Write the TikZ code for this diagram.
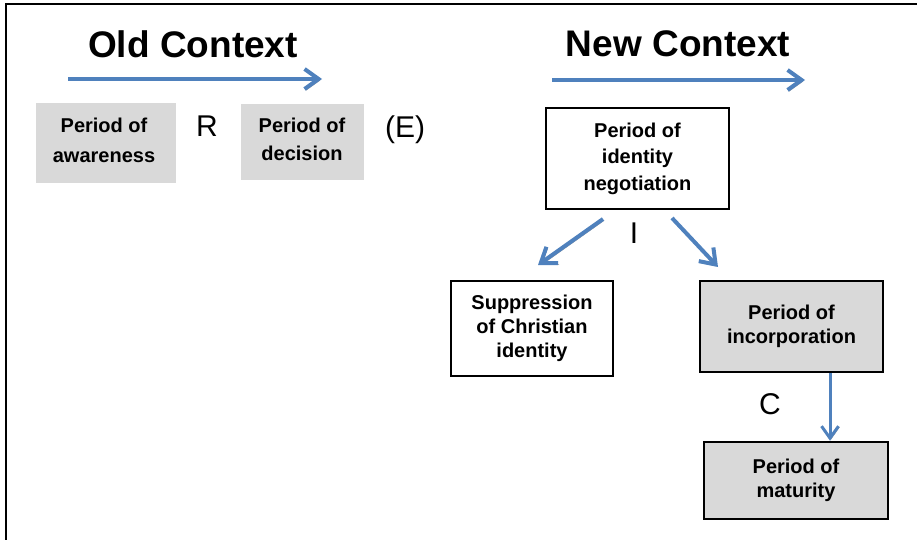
\documentclass[tikz,border=0pt]{standalone}
\usepackage{fontspec}
\setmainfont{Liberation Sans}
\usetikzlibrary{arrows.meta}
\definecolor{arrblue}{HTML}{4F81BD}
\definecolor{boxgray}{HTML}{D9D9D9}
\definecolor{shadowgray}{HTML}{8C8C8C}
\begin{document}
\begin{tikzpicture}[x=1pt,y=-1pt,
  boxtext/.style={align=center,font=\fontsize{20}{24}\selectfont\bfseries,inner sep=0pt},
  graybox/.style={rectangle,fill=boxgray,draw=none},
  whitebox/.style={rectangle,fill=white,draw=black,line width=2.5pt},
  grayframed/.style={rectangle,fill=boxgray,draw=black,line width=2.5pt},
  title/.style={font=\fontsize{37}{40}\selectfont\bfseries,inner sep=0pt,anchor=base},
  letter/.style={font=\fontsize{30}{34}\selectfont,inner sep=0pt,anchor=base},
  bigarrow/.style={draw=arrblue,line width=4pt,-{Straight Barb[length=14pt,width=20pt]},
    preaction={draw=shadowgray,transform canvas={shift={(1.2pt,-1.5pt)}}}},
  smallarrow/.style={draw=arrblue,line width=3pt,-{Straight Barb[length=12pt,width=17pt]},
    preaction={draw=shadowgray,transform canvas={shift={(1pt,-1pt)}}}},
]
\useasboundingbox (0,0) rectangle (917,540);
% frame
\draw[line width=2pt,black] (6,540) -- (6,4) -- (917,4);

% titles
\node[title] (oldt) at (193,58) {Old Context};
\node[title] (newt) at (678,57) {New Context};

% title arrows
\coordinate (o1) at (68,79);
\coordinate (o2) at (322,79);
\draw[bigarrow] (o1) -- (o2);
\coordinate (n1) at (552,80);
\coordinate (n2) at (805,80);
\draw[bigarrow] (n1) -- (n2);

% old context boxes
\node[graybox,minimum width=140pt,minimum height=80pt] (aw) at (106,143) {};
\node[boxtext,font=\fontsize{20}{30}\selectfont\bfseries] (awt) at (104,140) {Period of\\awareness};
\node[graybox,minimum width=123pt,minimum height=76pt] (dec) at (302.5,142) {};
\node[boxtext,font=\fontsize{20}{28}\selectfont\bfseries] (dect) at (302,139) {Period of\\decision};
\node[letter] (R) at (207,137) {R};
\node[letter] (E) at (405,138) {(E)};

% new context boxes
\node[whitebox,minimum width=183pt,minimum height=101pt,boxtext,font=\fontsize{20}{26.5}\selectfont\bfseries] (neg) at (637.5,158.5) {Period of\\identity\\negotiation};
\node[whitebox,minimum width=162pt,minimum height=95pt,boxtext] (sup) at (532,328.5) {Suppression\\of Christian\\identity};
\node[grayframed,minimum width=183pt,minimum height=91pt,boxtext] (inc) at (791.5,326.5) {Period of\\incorporation};
\node[grayframed,minimum width=184pt,minimum height=77pt,boxtext] (mat) at (796,480.5) {Period of\\maturity};

\node[letter] (I) at (634,243) {I};
\node[letter] (C) at (770,414) {C};

% connectors
\coordinate (l1) at (603,219);
\coordinate (l2) at (538,265);
\draw[bigarrow] (l1) -- (l2);
\coordinate (r1) at (672,218);
\coordinate (r2) at (718,267);
\draw[bigarrow] (r1) -- (r2);
\draw[smallarrow] (inc.south -| 830,0) -- (mat.north -| 830,0);
\end{tikzpicture}
\end{document}
